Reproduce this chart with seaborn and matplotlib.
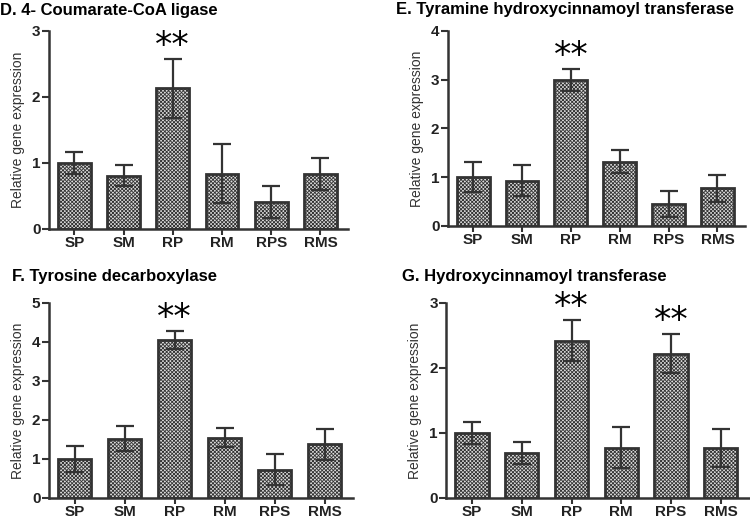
import matplotlib
matplotlib.use('Agg')
import matplotlib.pyplot as plt
import seaborn as sns
import pandas as pd
import numpy as np

sns.set_style("white")
plt.rcParams['font.family'] = ['Liberation Sans', 'DejaVu Sans']
plt.rcParams['hatch.color'] = '#555555'
plt.rcParams['hatch.linewidth'] = 0.6

samples = ['SP', 'SM', 'RP', 'RM', 'RPS', 'RMS']

coumarate_mean = [1.00, 0.81, 2.13, 0.84, 0.41, 0.83]
coumarate_err = [0.16, 0.16, 0.45, 0.44, 0.245, 0.24]

tyramine_mean = [1.00, 0.93, 2.99, 1.32, 0.45, 0.77]
tyramine_err = [0.30, 0.31, 0.22, 0.235, 0.27, 0.275]

tyrosine_mean = [1.00, 1.52, 4.05, 1.54, 0.72, 1.37]
tyrosine_err = [0.33, 0.33, 0.235, 0.24, 0.40, 0.39]

hct_mean = [1.00, 0.69, 2.42, 0.77, 2.22, 0.77]
hct_err = [0.17, 0.165, 0.31, 0.315, 0.295, 0.295]

panels = [
    ('D. 4- Coumarate-CoA ligase', coumarate_mean, coumarate_err, 3, ['RP']),
    ('E. Tyramine hydroxycinnamoyl transferase', tyramine_mean, tyramine_err, 4, ['RP']),
    ('F. Tyrosine decarboxylase', tyrosine_mean, tyrosine_err, 5, ['RP']),
    ('G. Hydroxycinnamoyl transferase', hct_mean, hct_err, 3, ['RP', 'RPS']),
]

# axes rectangles in figure fractions (left, bottom, width, height)
rects = [
    (0.065, 0.563, 0.399, 0.378),
    (0.597, 0.569, 0.396, 0.372),
    (0.065, 0.05, 0.405, 0.372),
    (0.595, 0.05, 0.403, 0.372),
]
# title position: x start, baseline gap above the axes
title_pos = [(0.0, 0.031), (0.528, 0.032), (0.016, 0.042), (0.536, 0.042)]

edge = '#333333'
fig = plt.figure(figsize=(7.5, 5.24), dpi=100)

for (title, means, errs, ymax, sig), rect, (tx, gap) in zip(panels, rects, title_pos):
    ax = fig.add_axes(rect)
    df = pd.DataFrame({'sample': samples, 'value': means, 'err': errs})
    sns.barplot(data=df, x='sample', y='value', ax=ax, color='#dcdcdc',
                width=0.67, edgecolor=edge, linewidth=2, errorbar=None)
    for p in ax.patches:
        p.set_hatch('xxxxxxxxx')
    ax.errorbar(range(len(df)), df['value'], yerr=df['err'], fmt='none',
                ecolor=edge, elinewidth=1.6, capsize=6.5, capthick=1.6)
    for i, s in enumerate(df['sample']):
        if s in sig:
            top = df['value'][i] + df['err'][i]
            ax.text(i, top - ymax * 0.02, '**', ha='center', va='bottom',
                    fontsize=25, color='black', family='DejaVu Sans')
    ax.set_xlim(-0.52, 5.56)
    ax.set_ylim(0, ymax)
    ax.set_yticks(range(0, ymax + 1))
    ax.set_xlabel('')
    ax.set_ylabel('Relative gene expression', fontsize=10, color='#333333', labelpad=5)
    for side in ['top', 'right']:
        ax.spines[side].set_visible(False)
    for side in ['left', 'bottom']:
        ax.spines[side].set_color(edge)
        ax.spines[side].set_linewidth(1.8)
    ax.tick_params(axis='y', direction='out', length=5, width=1.5, color=edge,
                   labelsize=11, labelcolor='#222222', left=True, pad=1)
    ax.tick_params(axis='x', direction='out', length=4, width=1.5, color=edge,
                   labelsize=11, labelcolor='#222222', bottom=True, pad=1)
    for lab in ax.get_xticklabels() + ax.get_yticklabels():
        lab.set_fontweight('bold')
    fig.text(tx, rect[1] + rect[3] + gap, title, fontsize=12, fontweight='bold',
             ha='left', va='baseline', color='black')

fig.savefig('out.png', dpi=100)
